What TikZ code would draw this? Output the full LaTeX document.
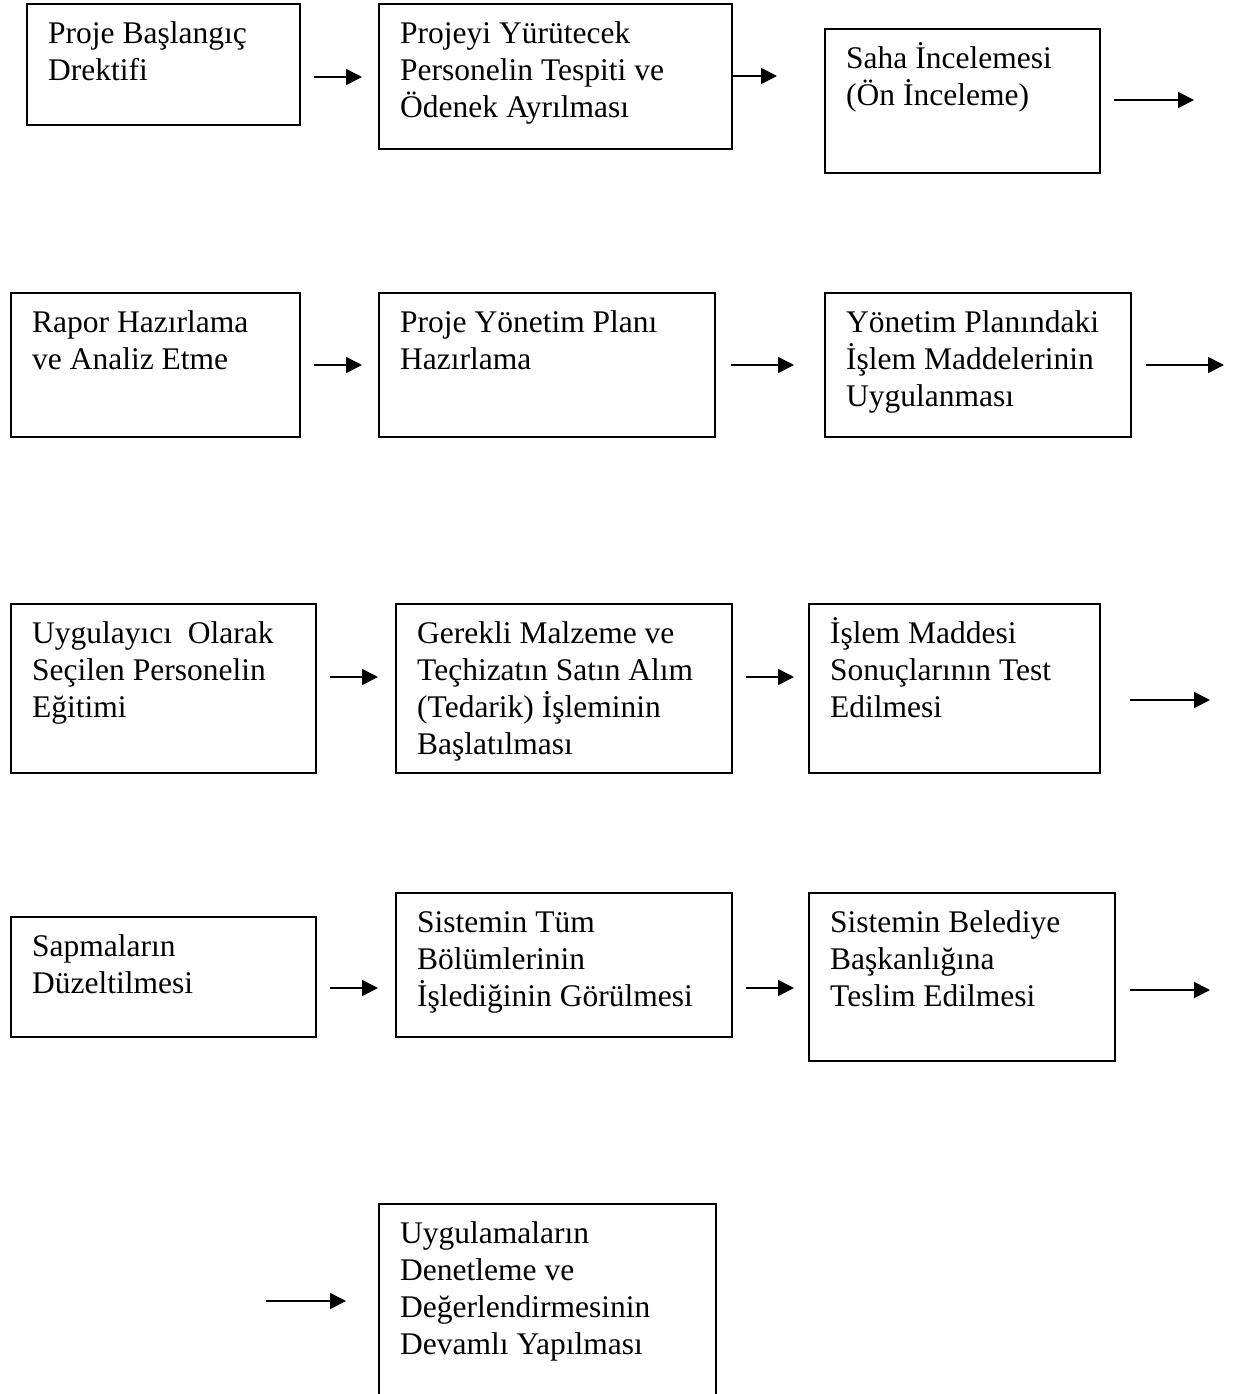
\documentclass[tikz,border=0pt]{standalone}
\usepackage{fontspec}
\setmainfont{Liberation Serif}
\usetikzlibrary{arrows.meta}
\tikzset{
  box/.style={draw, line width=1.7pt, inner sep=0pt, anchor=north west},
  txt/.style={anchor=north west, inner sep=0pt, align=left, font=\fontsize{31.5}{37}\selectfont},
  arr/.style={line width=1.8pt, -{Triangle[length=16pt,width=16pt]}},
}
\newcommand\procbox[6]{%
  \node[box, minimum width={(#4-#2)*1pt}, minimum height={(#5-#3)*1pt}] (#1) at (#2,#3) {};
  \node[txt] (#1t) at ([xshift=22pt,yshift=-10pt]#1.north west) {\rule{0pt}{30pt}#6};
}
\newcommand\flowarrow[4]{%
  \coordinate (#1s) at (#2,#4);
  \coordinate (#1e) at (#3,#4);
  \draw[arr] (#1s) -- (#1e);
}
\begin{document}
\begin{tikzpicture}[x=1pt,y=-1pt]
\path[use as bounding box] (0,0) rectangle (1232,1394);
\clip (0,0) rectangle (1232,1394);
% row 1
\procbox{A}{26}{3}{299}{124}{Proje Başlangıç\\Drektifi}
\procbox{B}{378}{3}{731}{148}{Projeyi Yürütecek\\Personelin Tespiti ve\\Ödenek Ayrılması}
\procbox{C}{824}{28}{1099}{172}{Saha İncelemesi\\(Ön İnceleme)}
% row 2
\procbox{D}{10}{292}{299}{436}{Rapor Hazırlama\\ve Analiz Etme}
\procbox{E}{378}{292}{714}{436}{Proje Yönetim Planı\\Hazırlama}
\procbox{F}{824}{292}{1130}{436}{Yönetim Planındaki\\İşlem Maddelerinin\\Uygulanması}
% row 3
\procbox{G}{10}{603}{315}{772}{Uygulayıcı\ \ Olarak\\Seçilen Personelin\\Eğitimi}
\procbox{H}{395}{603}{731}{772}{Gerekli Malzeme ve\\Teçhizatın Satın Alım\\(Tedarik) İşleminin\\Başlatılması}
\procbox{I}{808}{603}{1099}{772}{İşlem Maddesi\\Sonuçlarının Test\\Edilmesi}
% row 4
\procbox{J}{10}{916}{315}{1036}{Sapmaların\\Düzeltilmesi}
\procbox{K}{395}{892}{731}{1036}{Sistemin Tüm\\Bölümlerinin\\İşlediğinin Görülmesi}
\procbox{L}{808}{892}{1114}{1060}{Sistemin Belediye\\Başkanlığına\\Teslim Edilmesi}
% row 5
\procbox{M}{378}{1203}{715}{1400}{Uygulamaların\\Denetleme ve\\Değerlendirmesinin\\Devamlı Yapılması}
% arrows
\flowarrow{a1}{314}{362}{77}
\flowarrow{a2}{731}{777}{76}
\flowarrow{a3}{1114}{1194}{100}
\flowarrow{a4}{314}{362}{365}
\flowarrow{a5}{731}{794}{365}
\flowarrow{a6}{1146}{1224}{365}
\flowarrow{a7}{330}{378}{677}
\flowarrow{a8}{746}{794}{677}
\flowarrow{a9}{1130}{1210}{700}
\flowarrow{a10}{330}{378}{988}
\flowarrow{a11}{746}{794}{988}
\flowarrow{a12}{1130}{1210}{990}
\flowarrow{a13}{266}{346}{1301}
\end{tikzpicture}
\end{document}
